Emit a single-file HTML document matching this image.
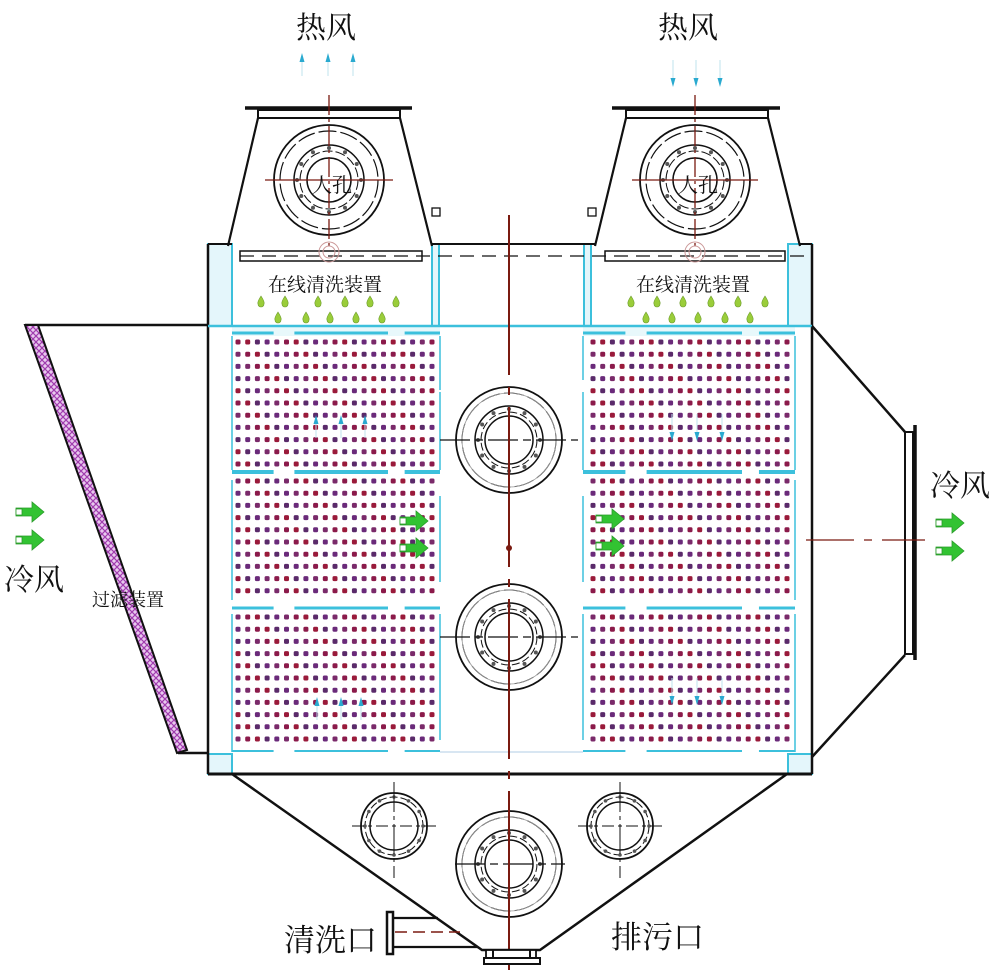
<!DOCTYPE html>
<html><head><meta charset="utf-8"><style>
html,body{margin:0;padding:0;background:#fff;width:1000px;height:979px;overflow:hidden}
svg{display:block}
text{font-family:"Liberation Serif","Noto Serif CJK SC","Noto Sans CJK SC",serif;fill:#111}
</style></head><body>
<svg id="s" width="1000" height="979" viewBox="0 0 1000 979" xmlns="http://www.w3.org/2000/svg">
<defs>
<pattern id="hatch" width="6" height="6" patternUnits="userSpaceOnUse">
<rect width="6" height="6" fill="#e8c8ee"/>
<path d="M0 0L6 6M6 0L0 6" stroke="#a03cae" stroke-width="1.2"/>
</pattern>
</defs>
<g id="g"></g>
<text x="296" y="38" font-size="30">热风</text>
<text x="658" y="38" font-size="30">热风</text>
<text x="268" y="291" font-size="19" font-family="Liberation Sans,Noto Sans CJK SC,sans-serif">在线清洗装置</text>
<text x="636" y="291" font-size="19" font-family="Liberation Sans,Noto Sans CJK SC,sans-serif">在线清洗装置</text>
<text x="4" y="590" font-size="30">冷风</text>
<text x="930" y="496" font-size="30">冷风</text>
<text x="92" y="606" font-size="18" font-family="Liberation Sans,Noto Sans CJK SC,sans-serif">过滤装置</text>
<text x="284" y="951" font-size="31">清洗口</text>
<text x="611" y="948" font-size="31">排污口</text>
<text x="312" y="192" font-size="20">人孔</text>
<text x="678" y="192" font-size="20">人孔</text>
</svg>
<script>
var g=document.getElementById('g'),h='';
function L(x1,y1,x2,y2,c,w,d){h+='<line x1="'+x1+'" y1="'+y1+'" x2="'+x2+'" y2="'+y2+'" stroke="'+(c||'#111')+'" stroke-width="'+(w||2)+'"'+(d?' stroke-dasharray="'+d+'"':'')+'/>';}
function R(x,y,w,hh,f,s,sw){h+='<rect x="'+x+'" y="'+y+'" width="'+w+'" height="'+hh+'" fill="'+(f||'none')+'" stroke="'+(s||'none')+'" stroke-width="'+(sw||1)+'"/>';}
function C(cx,cy,r,s,sw,d){h+='<circle cx="'+cx+'" cy="'+cy+'" r="'+r+'" fill="none" stroke="'+(s||'#111')+'" stroke-width="'+(sw||1.5)+'"'+(d?' stroke-dasharray="'+d+'"':'')+'/>';}
function P(d,f,s,sw){h+='<path d="'+d+'" fill="'+(f||'none')+'" stroke="'+(s||'#111')+'" stroke-width="'+(sw||2)+'"/>';}
var cy='#3cc0dc',red='#7a1a10';
R(208,244,24,82,'#e4f6fb',cy,2);R(432,244,7,82,'#e4f6fb',cy,2);
R(584,244,7,82,'#e4f6fb',cy,2);R(788,244,24,82,'#e4f6fb',cy,2);
R(208,754,24,20,'#e4f6fb',cy,2);R(788,754,24,20,'#e4f6fb',cy,2);
R(232,326,208,10,'#e8f8fb','none');R(583,326,212,10,'#e8f8fb','none');
L(208,244,208,774,'#111',2.5);L(812,244,812,774,'#111',2.5);
L(208,244,232,244);L(432,244,595,244);L(800,244,812,244);
L(208,326,812,326,cy,2.5);
L(208,774,812,774,'#111',3);
L(245,108,412,108,'#111',3.5);R(258,110,142,8,'none','#111',2);
P('M258 118L228 246M400 118L432 246',null,'#111',2.2);
L(612,108,780,108,'#111',3.5);R(626,110,142,8,'none','#111',2);
P('M626 118L595 246M768 118L800 246',null,'#111',2.2);
R(432,208,8,8,'#fff','#111',1.3);R(588,208,8,8,'#fff','#111',1.3);
R(240,251,182,10,'none','#111',1.5);R(605,251,180,10,'none','#111',1.5);
L(240,256,812,256,'#111',1.2,'14 8');
function MH(x,y){C(x,y,55,'#111',1.8);C(x,y,49,'#111',1.2,'18 4');C(x,y,35);C(x,y,29,'#111',1,'10 3');C(x,y,22);
 for(var i=0;i<12;i++){var a=i*Math.PI/6;h+='<circle cx="'+(x+32*Math.cos(a))+'" cy="'+(y+32*Math.sin(a))+'" r="2" fill="#555"/>';}}
MH(329,180);MH(695,180);
L(329,95,329,246,red,1.3,'20 4 3 4');L(695,95,695,246,red,1.3,'20 4 3 4');
L(265,180,393,180,red,1.3);L(632,180,758,180,red,1.3);
L(232,336,232,470,cy,1.5);L(232,480,232,600,cy,1.5);L(232,614,232,752,cy,1.5);
L(440,336,440,390,cy,1.5);L(440,392,440,470,cy,1.5);L(440,496,440,582,cy,1.5);L(440,614,440,740,cy,1.5);
L(583,336,583,380,cy,1.5);L(583,392,583,470,cy,1.5);L(583,496,583,582,cy,1.5);L(583,614,583,740,cy,1.5);
L(795,336,795,470,cy,1.5);L(795,480,795,600,cy,1.5);L(795,614,795,752,cy,1.5);
function DV(y,x1,x2,w){var s=(x2-x1);L(x1,y,x1+s*0.2,y,cy,w);L(x1+s*0.3,y,x1+s*0.75,y,cy,w);L(x1+s*0.83,y,x2,y,cy,w);}
DV(333,232,440,3);DV(333,583,795,3);DV(472,232,440,4);DV(472,583,795,4);DV(608,232,440,3);DV(608,583,795,3);DV(751,232,440,2);DV(751,583,795,2);
L(440,752,583,752,'#cde',1.5);
var cols=['#8b1a4a','#6a2a7a','#9a1a3a','#7a2a6a','#5a2a6a'];
function bank(x0){var ys=[];for(var i=0;i<11;i++)ys.push(342+12.2*i);for(i=0;i<10;i++)ys.push(481+12.2*i);for(i=0;i<11;i++)ys.push(617+12.2*i);
 for(var r=0;r<ys.length;r++)for(var c=0;c<21;c++){h+='<rect x="'+(x0+c*9.7-2.5)+'" y="'+(ys[r]-2.5)+'" width="5" height="5" rx="1.5" fill="'+cols[(r*3+c*7)%5]+'"/>';}}
bank(238);bank(593);
function MC(x,y){C(x,y,53,'#111',1.8);C(x,y,47,'#111',1,'20 4');C(x,y,47,'#999',0.8);C(x,y,34);C(x,y,28,'#111',1,'8 3');C(x,y,24);
 for(var i=0;i<12;i++){var a=i*Math.PI/6;h+='<circle cx="'+(x+31*Math.cos(a))+'" cy="'+(y+31*Math.sin(a))+'" r="2" fill="#555"/>';}}
MC(509,440);MC(509,637);MC(509,864);
L(440,440,578,440,'#111',1.2,'30 5 8 5');L(440,637,578,637,'#111',1.2,'30 5 8 5');L(455,864,565,864,'#111',1.2,'30 5 8 5');
L(509,215,509,970,red,2,'160 12 8 12');
h+='<circle cx="509" cy="548" r="3" fill="'+red+'"/>';
function SC(x,y){C(x,y,33,'#111',1.8);C(x,y,29,'#111',1,'8 3');C(x,y,24);
 for(var i=0;i<12;i++){var a=i*Math.PI/6;h+='<circle cx="'+(x+29*Math.cos(a))+'" cy="'+(y+29*Math.sin(a))+'" r="1.8" fill="#555"/>';}
 L(x-42,y,x+42,y,'#111',1,'12 4 4 4');L(x,y-44,x,y+52,'#111',1,'30 4 4 4');}
SC(394,826);SC(620,826);
P('M232 774L482 950L540 950L787 774',null,'#111',2.5);
R(486,950,50,8,'#fff','#111',1.8);L(493,950,493,958);L(530,950,530,958);R(484,958,56,6,'#fff','#111',2);
L(392,918,438,918,'#111',2.2);L(392,947,478,947,'#111',2.2);L(395,932,460,932,red,1.5,'12 6');
R(387,912,6,42,'#fff','#111',2.5);
P('M25 325L208 325M178 753L208 753',null,'#111',2.5);
P('M25 325L38 325L187 750L177 753Z','url(#hatch)','#111',2);
P('M812 326L905 432M812 757L905 655',null,'#111',2.5);
R(905,432,8,222,'#fff','#111',2);L(915,425,915,660,'#111',3.5);
L(806,540,925,540,red,1.2,'48 10 8 10');
function GA(x,y){h+='<path d="M'+x+' '+(y-4)+'h16v-6l12 10l-12 10v-6h-16z" fill="#32c332" stroke="#2a9a2a" stroke-width="0.8"/>';R(x,y-3,6,6,'#fff','#2a9a2a',0.8);}
GA(16,512);GA(16,540);GA(936,523);GA(936,551);GA(400,521);GA(400,548);GA(596,519);GA(596,546);
function DR(x,y){h+='<path d="M'+x+' '+(y-6)+'q4 6 3 8a3 3 0 0 1 -6 0q-1 -2 3 -8z" fill="#9acd3a" stroke="#6a9a2a" stroke-width="0.6"/>';}
[261,285,318,345,370,396].forEach(function(x){DR(x,302)});[278,306,330,356,382].forEach(function(x){DR(x,318)});
[631,657,683,711,738,765].forEach(function(x){DR(x,302)});[646,672,698,725,750].forEach(function(x){DR(x,318)});
function BA(x,y,up){L(x,y-(up?-14:18),x,y,'#bfe3ee',1);h+='<path d="M'+(x-2.5)+' '+y+(up?'l2.5 -9l2.5 9z':'l2.5 9l2.5 -9z')+'" fill="#2aaad0"/>';}
BA(302,62,true);BA(328,62,true);BA(353,62,true);
BA(673,78,false);BA(696,78,false);BA(720,78,false);
BA(316,424,true);BA(341,424,true);BA(365,424,true);
BA(672,432,false);BA(697,432,false);BA(722,432,false);
BA(317,706,true);BA(341,706,true);BA(361,706,true);
BA(672,696,false);BA(697,696,false);BA(722,696,false);
C(329,252,10,'#c99',1);C(329,252,6,'#c99',1);C(695,252,10,'#c99',1);C(695,252,6,'#c99',1);
g.innerHTML=h;
</script>
</body></html>
